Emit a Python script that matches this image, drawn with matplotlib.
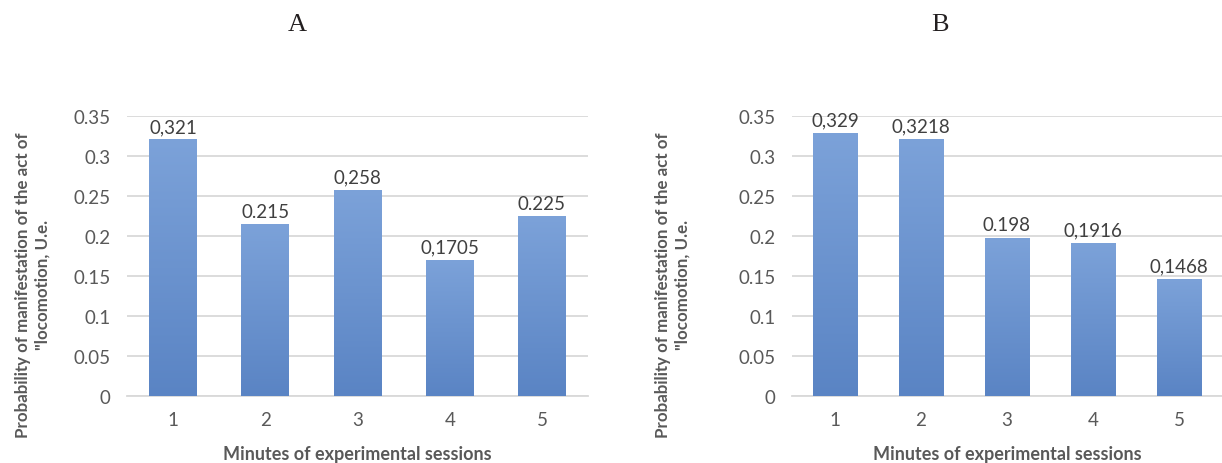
import matplotlib
matplotlib.use("Agg")
import matplotlib.pyplot as plt
import numpy as np
from matplotlib.colors import LinearSegmentedColormap

plt.rcParams['font.family'] = ['Lato', 'DejaVu Sans']

minutes = ['1', '2', '3', '4', '5']

prob_a = [0.321, 0.215, 0.258, 0.1705, 0.225]
labels_a = ['0,321', '0.215', '0,258', '0,1705', '0.225']

prob_b = [0.329, 0.3218, 0.198, 0.1916, 0.1468]
labels_b = ['0,329', '0,3218', '0.198', '0,1916', '0,1468']

yticks = [0, 0.05, 0.1, 0.15, 0.2, 0.25, 0.3, 0.35]
ytick_labels = ['0', '0.05', '0.1', '0.15', '0.2', '0.25', '0.3', '0.35']

grid_col = '#d9d9d9'
text_col = '#595959'
bar_grad = LinearSegmentedColormap.from_list('bar', ['#5a84c4', '#7ca2d9'])


def draw_panel(ax, values, labels, ylabel_x):
    x = np.arange(len(minutes))
    bars = ax.bar(x, values, width=0.52, color='#6b93d0', zorder=2)
    # vertical gradient inside each bar
    grad = np.linspace(0, 1, 256).reshape(-1, 1)
    for b in bars:
        x0, w, h = b.get_x(), b.get_width(), b.get_height()
        im = ax.imshow(grad, cmap=bar_grad, origin='lower', aspect='auto',
                       extent=[x0, x0 + w, 0, h], zorder=3)
        im.set_clip_path(b)
    for b, lab in zip(bars, labels):
        ax.annotate(lab, (b.get_x() + b.get_width() / 2, b.get_height()),
                    xytext=(0, 3), textcoords='offset points',
                    ha='center', va='bottom', fontsize=13.5, color='#404040')

    ax.set_xlim(-0.5, len(minutes) - 0.5)
    ax.set_ylim(0, 0.35)
    ax.set_xticks(x)
    ax.set_xticklabels(minutes)
    ax.set_yticks(yticks)
    ax.set_yticklabels(ytick_labels)
    ax.yaxis.grid(True, color=grid_col, linewidth=1.3, zorder=0)
    ax.set_axisbelow(True)
    for s in ['top', 'right', 'left']:
        ax.spines[s].set_visible(False)
    ax.spines['bottom'].set_color(grid_col)
    ax.spines['bottom'].set_linewidth(1.3)
    ax.tick_params(axis='both', length=0, labelsize=13.5, colors=text_col)
    ax.tick_params(axis='x', pad=11)
    ax.tick_params(axis='y', pad=12)

    ax.set_xlabel('Minutes of experimental sessions', fontsize=13,
                  fontweight='bold', color=text_col)
    ax.xaxis.set_label_coords(0.5, -0.175)
    ax.set_ylabel('Probability of manifestation of the act of\n"locomotion, U.e.',
                  fontsize=12.2, fontweight='bold', color=text_col, linespacing=1.3)
    ax.yaxis.set_label_coords(ylabel_x, 0.40)


fig = plt.figure(figsize=(12.22, 4.64), dpi=100)
ax_a = fig.add_axes([0.1039, 0.1444, 0.3773, 0.6034])
ax_b = fig.add_axes([0.6481, 0.1444, 0.3519, 0.6034])

draw_panel(ax_a, prob_a, labels_a, -0.165)
draw_panel(ax_b, prob_b, labels_b, -0.235)

fig.text(297 / 1222, 1 - 25 / 464, 'A', ha='center', va='center',
         fontsize=19, family='Liberation Serif', color='#231f20')
fig.text(940 / 1222, 1 - 25 / 464, 'B', ha='center', va='center',
         fontsize=19, family='Liberation Serif', color='#231f20')

fig.savefig('out.png', dpi=100, facecolor='white')
